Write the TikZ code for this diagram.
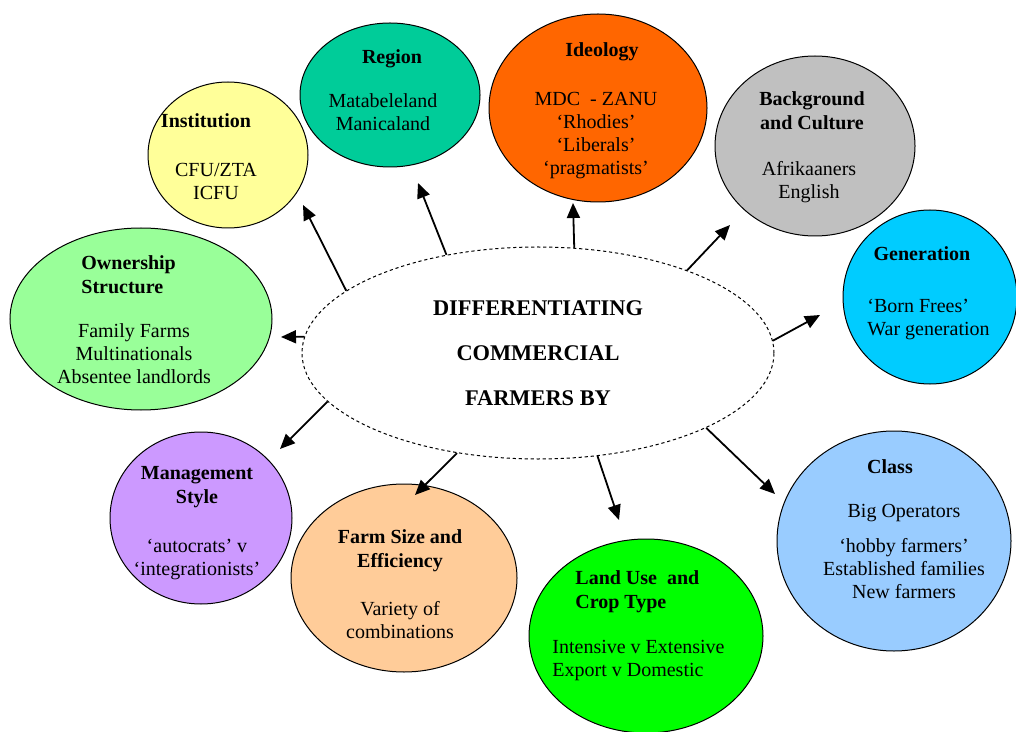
\documentclass[tikz,border=0pt]{standalone}
\usepackage{fontspec}
\setmainfont{Liberation Serif}
\usetikzlibrary{arrows.meta,shapes.geometric}

\definecolor{instcol}{HTML}{FFFF99}
\definecolor{regcol}{HTML}{00CC99}
\definecolor{ideocol}{HTML}{FF6600}
\definecolor{backcol}{HTML}{C0C0C0}
\definecolor{gencol}{HTML}{00CCFF}
\definecolor{owncol}{HTML}{99FF99}
\definecolor{mancol}{HTML}{CC99FF}
\definecolor{farmcol}{HTML}{FFCC99}
\definecolor{landcol}{HTML}{00FF00}
\definecolor{classcol}{HTML}{99CCFF}

\begin{document}
\begin{tikzpicture}[
    x = 0.5pt,
    y = -0.5pt
  ]
  \tikzstyle{bubble} = [
    draw, ellipse,
    line width = 0.5pt,
    inner sep  = 0pt
  ]
  \tikzstyle{hub}    = [
    draw, ellipse,
    dash pattern   = on 1.6pt off 1.4pt,
    line width     = 0.5pt,
    align          = center,
    font           = \fontsize{11.2}{22.5}\selectfont\bfseries,
    minimum width  = 236pt,
    minimum height = 106pt
  ]
  \tikzstyle{head}   = [
    anchor    = north,
    align     = center,
    inner sep = 0pt,
    font      = \fontsize{10}{12}\selectfont\bfseries
  ]
  \tikzstyle{body}   = [
    anchor    = north,
    align     = center,
    inner sep = 0pt,
    font      = \fontsize{10}{11.5}\selectfont
  ]
  \tikzstyle{arrow}  = [draw, line width = 0.9pt, -{Triangle[length=7.5pt, width=6.5pt]}]

  \useasboundingbox (0,0) rectangle (1016,732);

  % outer bubbles
  \node [bubble, fill = instcol,  minimum width =  80pt, minimum height =  73pt] (inst)  at (228,155) {};
  \node [bubble, fill = regcol,   minimum width =  90pt, minimum height =  72pt] (reg)   at (390, 95) {};
  \node [bubble, fill = ideocol,  minimum width = 109pt, minimum height =  94pt] (ideo)  at (598,108) {};
  \node [bubble, fill = backcol,  minimum width = 100pt, minimum height =  90pt] (back)  at (815,146) {};
  \node [bubble, fill = gencol,   minimum width =  87pt, minimum height =  87pt] (gen)   at (930,297) {};
  \node [bubble, fill = owncol,   minimum width = 131pt, minimum height =  91pt] (own)   at (141,319) {};
  \node [bubble, fill = mancol,   minimum width =  91pt, minimum height =  86pt] (man)   at (201,518) {};
  \node [bubble, fill = farmcol,  minimum width = 113pt, minimum height =  94pt] (farm)  at (404,578) {};
  \node [bubble, fill = landcol,  minimum width = 117pt, minimum height =  97pt] (land)  at (646,636) {};
  \node [bubble, fill = classcol, minimum width = 117pt, minimum height = 110pt] (class) at (894,541) {};

  % texts
  \node [head] (instH)  at (206,113.5) {Institution};
  \node [body] (instB)  at (216,162.5) {CFU/ZTA\\ICFU};
  \node [head] (regH)   at (392, 49.5) {Region};
  \node [body] (regB)   at (383, 93.5) {Matabeleland\\Manicaland};
  \node [head] (ideoH)  at (602, 42.5) {Ideology};
  \node [body] (ideoB)  at (596, 91.5) {MDC\ \ - ZANU\\‘Rhodies’\\‘Liberals’\\‘pragmatists’};
  \node [head] (backH)  at (812, 91.5) {Background\\and Culture};
  \node [body] (backB)  at (809,161.5) {Afrikaaners\\English};
  \node [head] (genH)   at (922,246.5) {Generation};
  \node [body, anchor = north west, align = left] (genB) at (867,298.5) {‘Born Frees’\\War generation};
  \node [head, anchor = north west, align = left] (ownH) at (81,255.5) {Ownership\\Structure};
  \node [body] (ownB)   at (134,323.5) {Family Farms\\Multinationals\\Absentee landlords};
  \node [head] (manH)   at (197,466.5) {Management\\Style};
  \node [body] (manB)   at (197,538.5) {‘autocrats’ v\\‘integrationists’};
  \node [head] (farmH)  at (400,529.5) {Farm Size and\\Efficiency};
  \node [body] (farmB)  at (400,601.5) {Variety of\\combinations};
  \node [head, anchor = north west, align = left] (landH) at (575,570.5) {Land Use\ \ and\\Crop Type};
  \node [body, anchor = north west, align = left] (landB) at (552,639.5) {Intensive v Extensive\\Export v Domestic};
  \node [head] (classH) at (890,459.5) {Class};
  \node [body] (classB) at (904,503.5) {Big Operators\\[6pt]‘hobby farmers’\\Established families\\New farmers};

  % centre
  \node [hub] (hub) at (538,353) {DIFFERENTIATING\\COMMERCIAL\\FARMERS BY};

  \coordinate (tInst)  at (303,205);
  \coordinate (tReg)   at (418,183);
  \coordinate (tIdeo)  at (573,203);
  \coordinate (tBack)  at (730,225);
  \coordinate (tGen)   at (820,315);
  \coordinate (tOwn)   at (281,337);
  \coordinate (tMan)   at (280,449);
  \coordinate (tFarm)  at (415,495);
  \coordinate (tLand)  at (619,520);
  \coordinate (tClass) at (775,494);

  \path [arrow] (hub.162)   -- (tInst);
  \path [arrow] (hub.133.6) -- (tReg);
  \path [arrow] (hub.71.7)  -- (tIdeo);
  \path [arrow] (hub.29.3)  -- (tBack);
  \path [arrow] (hub.3.9)   -- (tGen);
  \path [arrow] (hub.176.1) -- (tOwn);
  \path [arrow] (hub.193.7) -- (tMan);
  \path [arrow] (hub.231.2) -- (tFarm);
  \path [arrow] (hub.300.5) -- (tLand);
  \path [arrow] (hub.336.5) -- (tClass);
\end{tikzpicture}
\end{document}
